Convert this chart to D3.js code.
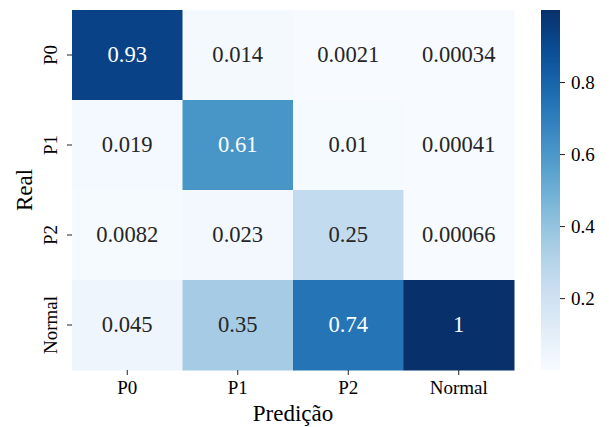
<!DOCTYPE html>
<html lang="pt">
<head>
<meta charset="UTF-8">
<title>Matriz de confusão</title>
<script src="https://cdn.jsdelivr.net/npm/d3@7"></script>
<style>
  body { margin: 0; background: #fff; }
  svg text { font-family: "Liberation Serif", "Times New Roman", serif; }
</style>
</head>
<body>
<svg width="609" height="427"></svg>
<script>
// dados
var rowLabels = ["P0", "P1", "P2", "Normal"];   // Real
var colLabels = ["P0", "P1", "P2", "Normal"];   // Predição
var rowP0 = [0.93, 0.014, 0.0021, 0.00034];
var rowP1 = [0.019, 0.61, 0.01, 0.00041];
var rowP2 = [0.0082, 0.023, 0.25, 0.00066];
var rowNormal = [0.045, 0.35, 0.74, 1];
var cbTicks = [0.2, 0.4, 0.6, 0.8];

var matrix = [rowP0, rowP1, rowP2, rowNormal];
var cells = [];
matrix.forEach(function(row, i) {
    row.forEach(function(v, j) {
        cells.push({ r: rowLabels[i], c: colLabels[j], v: v });
    });
});

var svg = d3.select("svg");
var mLeft = 72, mRight = 514, mTop = 10, mBottom = 370;
var serif = "'Liberation Serif', 'Times New Roman', serif";
var tickFont = "19px";

var x = d3.scaleBand().domain(colLabels).range([mLeft, mRight]);
var y = d3.scaleBand().domain(rowLabels).range([mTop, mBottom]);

var all = d3.merge(matrix);
var vmin = d3.min(all), vmax = d3.max(all);
var color = d3.scaleSequential(d3.interpolateBlues).domain([vmin, vmax]);

// cor do texto como no seaborn (luminância relativa)
function textColor(v) {
    var c = d3.rgb(color(v));
    var lum = [c.r, c.g, c.b].map(function(ch) {
        ch = ch / 255;
        return ch <= 0.03928 ? ch / 12.92 : Math.pow((ch + 0.055) / 1.055, 2.4);
    });
    var L = 0.2126 * lum[0] + 0.7152 * lum[1] + 0.0722 * lum[2];
    return L > 0.408 ? "#262626" : "#ffffff";
}

// células
svg.append("g").selectAll("rect")
    .data(cells).enter().append("rect")
    .attr("x", function(d) { return x(d.c); })
    .attr("y", function(d) { return y(d.r); })
    .attr("width", x.bandwidth() + 0.5)
    .attr("height", y.bandwidth() + 0.5)
    .attr("fill", function(d) { return color(d.v); });

// anotações
svg.append("g").selectAll("text")
    .data(cells).enter().append("text")
    .attr("x", function(d) { return x(d.c) + x.bandwidth() / 2; })
    .attr("y", function(d) { return y(d.r) + y.bandwidth() / 2; })
    .attr("dy", "0.32em")
    .attr("text-anchor", "middle")
    .style("font-size", "22.6px")
    .attr("fill", function(d) { return textColor(d.v); })
    .text(function(d) { return d3.format("")(d.v); });

// eixo x
var xAxis = svg.append("g")
    .attr("transform", "translate(0," + mBottom + ")")
    .call(d3.axisBottom(x).tickSize(5).tickPadding(6));
xAxis.attr("font-family", serif).attr("font-size", null);
xAxis.select(".domain").remove();
xAxis.selectAll("text").style("font-size", tickFont).attr("fill", "#000");
xAxis.selectAll("line").attr("stroke", "#222");

// eixo y (rótulos rotacionados)
var yAxis = svg.append("g")
    .attr("transform", "translate(" + mLeft + ",0)")
    .call(d3.axisLeft(y).tickSize(5).tickPadding(0));
yAxis.attr("font-family", serif).attr("font-size", null);
yAxis.select(".domain").remove();
yAxis.selectAll("line").attr("stroke", "#222");
yAxis.selectAll("text")
    .style("font-size", tickFont).attr("fill", "#000")
    .attr("x", 0).attr("dy", 0)
    .attr("transform", "translate(-15,0) rotate(-90)")
    .attr("text-anchor", "middle");

// títulos dos eixos
svg.append("text")
    .attr("x", (mLeft + mRight) / 2).attr("y", 421)
    .attr("text-anchor", "middle")
    .style("font-size", "23px")
    .text("Predição");

svg.append("text")
    .attr("transform", "translate(31.5," + (mTop + mBottom) / 2 + ") rotate(-90)")
    .attr("text-anchor", "middle")
    .style("font-size", "23px")
    .text("Real");

// barra de cores
var cbX = 541, cbW = 19;
var cbScale = d3.scaleLinear().domain([vmin, vmax]).range([mBottom, mTop]);
var grad = svg.append("defs").append("linearGradient").attr("id", "cbgrad")
    .attr("x1", 0).attr("x2", 0).attr("y1", 1).attr("y2", 0);
d3.range(0, 1.0001, 0.05).forEach(function(t) {
    grad.append("stop").attr("offset", t)
        .attr("stop-color", color(vmin + t * (vmax - vmin)));
});
svg.append("rect")
    .attr("x", cbX).attr("y", mTop)
    .attr("width", cbW).attr("height", mBottom - mTop)
    .attr("fill", "url(#cbgrad)");

var cbAxis = svg.append("g")
    .attr("transform", "translate(" + (cbX + cbW) + ",0)")
    .call(d3.axisRight(cbScale).tickValues(cbTicks).tickSize(5).tickPadding(6)
        .tickFormat(d3.format(".1f")));
cbAxis.attr("font-family", serif).attr("font-size", null);
cbAxis.select(".domain").remove();
cbAxis.selectAll("line").attr("stroke", "#222");
cbAxis.selectAll("text").style("font-size", tickFont).attr("fill", "#000");
</script>
</body>
</html>
